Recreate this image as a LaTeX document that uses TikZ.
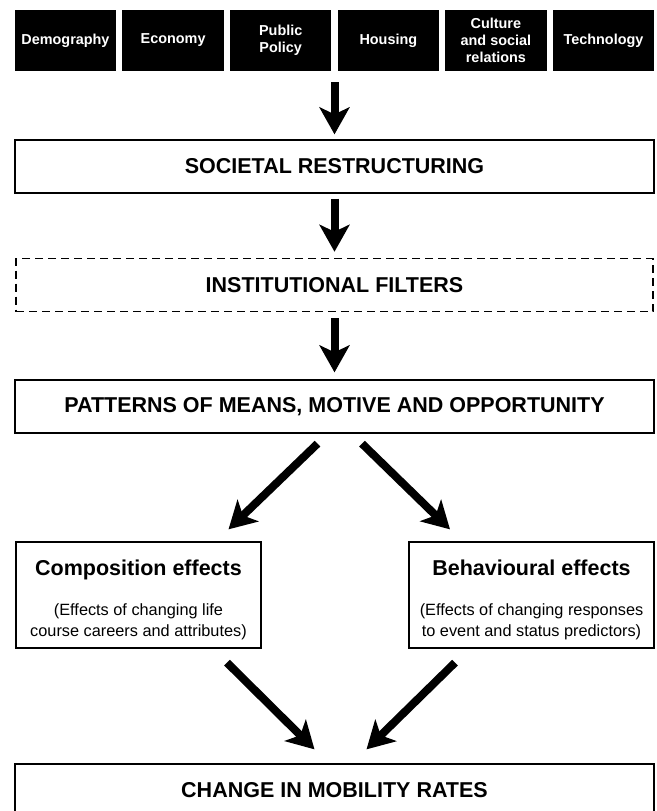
\documentclass[tikz,border=0pt]{standalone}
\usepackage{fontspec}
\setmainfont{Liberation Sans}
\usetikzlibrary{arrows.meta, fit}

\begin{document}
\begin{tikzpicture}[x=1pt, y=-1pt,
    factor/.style={fill=black, text=white, font=\bfseries\fontsize{14.4}{17}\selectfont,
        minimum width=101.5pt, minimum height=61pt, align=center, inner sep=0pt},
    stage/.style={draw, line width=1.3pt, minimum width=639pt, minimum height=53pt,
        font=\bfseries\fontsize{21.5}{25}\selectfont, inner sep=0pt},
    effect/.style={draw, line width=1.3pt, minimum width=245pt, minimum height=106pt,
        align=center, inner sep=0pt, font=\fontsize{16.3}{21}\selectfont},
    bigarrow/.style={line width=8pt, -{Stealth[length=27pt, width=30pt, inset=7pt]}}]
    \useasboundingbox (0,0) rectangle (656,811);
    % driving factors
    \foreach \name/\txt [count=\i from 0] in {demo/Demography, econ/Economy,
        policy/{Public\\Policy}, housing/Housing, culture/{Culture\\and social\\relations},
        tech/Technology}
        \node[factor] (\name) at (65.5+\i*107.6, 40.5) {\txt};
    \node[fit=(demo)(tech), inner sep=0pt] (factors) {};
    % main stages
    \node[stage] (restr) at (334.5,166.5) {SOCIETAL RESTRUCTURING};
    \node[stage, line width=1.5pt, dash pattern=on 8pt off 5pt, minimum width=637pt] (filters) at (334.5,285) {INSTITUTIONAL FILTERS};
    \node[stage] (patterns) at (334.5,406.5) {PATTERNS OF MEANS, MOTIVE AND OPPORTUNITY};
    \node[effect] (comp) at (138.5,595) {{\bfseries\fontsize{21.5}{25}\selectfont\rule{0pt}{26pt}Composition effects}\\[19pt]
        (Effects of changing life\\course careers and attributes)};
    \node[effect] (behav) at (531.5,595) {{\bfseries\fontsize{21.5}{25}\selectfont\rule{0pt}{26pt}Behavioural effects}\\[19pt]
        (Effects of changing responses\\to event and status predictors)};
    \node[stage, minimum height=52pt] (mobility) at (334.5,790) {CHANGE IN MOBILITY RATES};
    % arrows
    \draw[bigarrow, shorten <=11pt, shorten >=5pt] (factors) -- (restr);
    \draw[bigarrow, shorten <=5pt, shorten >=6pt] (restr) -- (filters);
    \draw[bigarrow, shorten <=6pt, shorten >=7pt] (filters) -- (patterns);
    \draw[bigarrow] ([xshift=-17pt, yshift=-10pt]patterns.south) -- ([xshift=90pt, yshift=12pt]comp.north);
    \draw[bigarrow] ([xshift=27.5pt, yshift=-10pt]patterns.south) -- ([xshift=-81.5pt, yshift=12pt]behav.north);
    \draw[bigarrow] ([xshift=88.5pt, yshift=-14pt]comp.south) -- ([xshift=-20pt, yshift=14pt]mobility.north);
    \draw[bigarrow] ([xshift=-76.5pt, yshift=-14pt]behav.south) -- ([xshift=32pt, yshift=14pt]mobility.north);
\end{tikzpicture}
\end{document}
